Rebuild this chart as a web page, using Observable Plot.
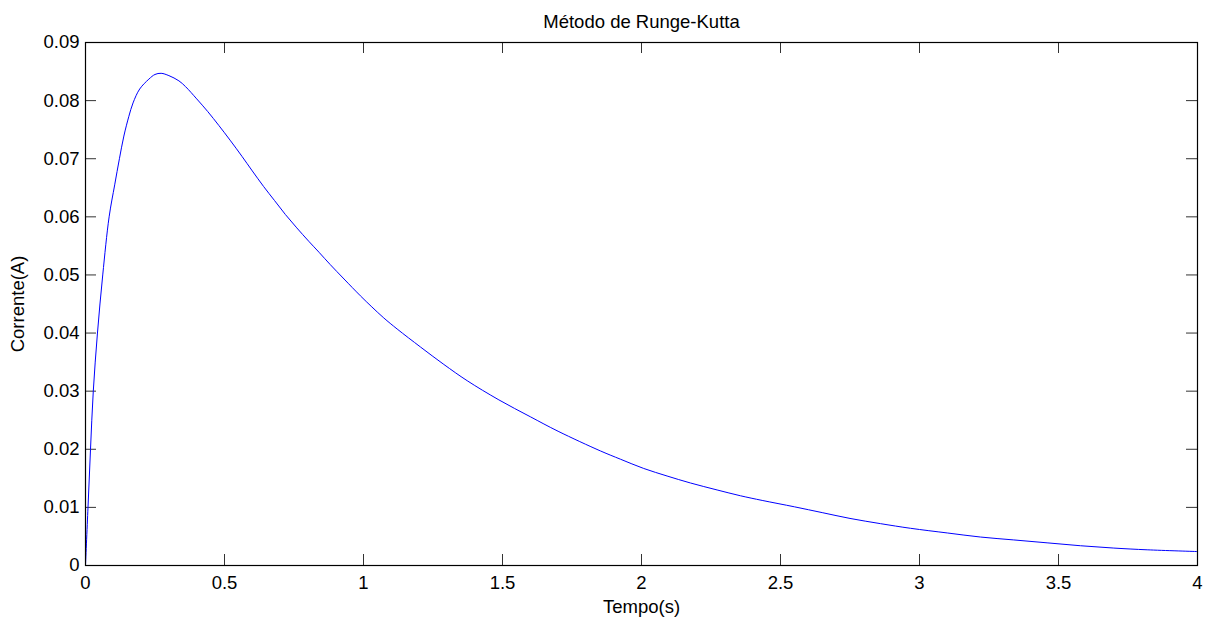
<!DOCTYPE html>
<html>
<head>
<meta charset="utf-8">
<script src="https://cdn.jsdelivr.net/npm/d3@7"></script>
<script src="https://cdn.jsdelivr.net/npm/@observablehq/plot@0.6"></script>
<style>
  html, body { margin: 0; padding: 0; background: #fff; overflow: hidden; }
</style>
</head>
<body>
<div id="chart"></div>
<script>
// Current through the circuit, integrated with the Runge-Kutta method
const timeS = [0, 0.009, 0.018, 0.028, 0.043, 0.062, 0.085, 0.105, 0.122, 0.138,
  0.156, 0.171, 0.195, 0.228, 0.25, 0.272, 0.30, 0.336, 0.36, 0.40,
  0.44, 0.48, 0.52, 0.563, 0.60, 0.641, 0.68, 0.719, 0.76, 0.803,
  0.84, 0.88, 0.93, 0.989, 1.03, 1.073, 1.121, 1.205, 1.289, 1.373,
  1.487, 1.6, 1.7, 1.853, 1.924, 2.008, 2.092, 2.176, 2.272, 2.356,
  2.434, 2.55, 2.65, 2.75, 2.86, 2.968, 3.10, 3.219, 3.339, 3.459,
  3.579, 3.699, 3.819, 4.0];
const currentA = [0, 0.010, 0.020, 0.030, 0.040, 0.050, 0.060, 0.0655, 0.0700, 0.0739,
  0.0773, 0.0796, 0.0820, 0.0837, 0.0845, 0.0847, 0.0843, 0.0834, 0.0824, 0.0803,
  0.0781, 0.0757, 0.0732, 0.0704, 0.0679, 0.0652, 0.0628, 0.0604, 0.0581, 0.0558,
  0.0539, 0.0518, 0.0493, 0.0464, 0.0445, 0.0426, 0.0407, 0.0376, 0.0346, 0.0318,
  0.0285, 0.0256, 0.0231, 0.0197, 0.0183, 0.0167, 0.0154, 0.0142, 0.0130, 0.0120,
  0.0112, 0.0101, 0.0091, 0.0081, 0.0072, 0.0064, 0.0056, 0.0049, 0.0044, 0.0039,
  0.0034, 0.0030, 0.0027, 0.0024];

const xTicks = [0, 0.5, 1, 1.5, 2, 2.5, 3, 3.5, 4];
const yTicks = [0, 0.01, 0.02, 0.03, 0.04, 0.05, 0.06, 0.07, 0.08, 0.09];
const xTickLabels = ["0", "0.5", "1", "1.5", "2", "2.5", "3", "3.5", "4"];
const yTickLabels = ["0", "0.01", "0.02", "0.03", "0.04", "0.05", "0.06", "0.07", "0.08", "0.09"];

const titleText = "Método de Runge-Kutta";
const xLabel = "Tempo(s)";
const yLabel = "Corrente(A)";

const data = timeS.map((t, i) => ({t, i: currentA[i]}));

const W = 1211, H = 621;
const mL = 85, mR = 14, mT = 42, mB = 56;
const innerW = W - mL - mR, innerH = H - mT - mB;
const TICK = 11; // inward tick length in px

const textOpts = {text: d => d, fontSize: 18.5, lineAnchor: "middle", textAnchor: "middle"};

const chart = Plot.plot({
  width: W,
  height: H,
  marginLeft: mL,
  marginRight: mR,
  marginTop: mT,
  marginBottom: mB,
  style: {fontFamily: "'Liberation Sans', Arial, sans-serif", fontSize: "18.5px", background: "#fff", color: "#000"},
  x: {domain: [0, 4]},
  y: {domain: [0, 0.09]},
  marks: [
    Plot.axisX(xTicks, {tickSize: 0, tickPadding: 10, tickFormat: d => xTickLabels[xTicks.indexOf(d)], label: null}),
    Plot.axisY(yTicks, {tickSize: 0, tickPadding: 6, tickFormat: d => yTickLabels[yTicks.indexOf(d)], label: null}),
    // inward ticks on all four sides of the box
    Plot.tickX(xTicks, {x: d => d, insetTop: innerH - TICK, stroke: "#333"}),
    Plot.tickX(xTicks, {x: d => d, insetBottom: innerH - TICK, stroke: "#333"}),
    Plot.tickY(yTicks, {y: d => d, insetRight: innerW - TICK, stroke: "#333"}),
    Plot.tickY(yTicks, {y: d => d, insetLeft: innerW - TICK, stroke: "#333"}),
    Plot.line(data, {x: "t", y: "i", stroke: "#0000ff", strokeWidth: 1, curve: "catmull-rom"}),
    Plot.frame({stroke: "#000", strokeWidth: 1.2}),
    Plot.text([titleText], {...textOpts, frameAnchor: "top", dy: -20}),
    Plot.text([xLabel], {...textOpts, frameAnchor: "bottom", dy: 42}),
    Plot.text([yLabel], {...textOpts, frameAnchor: "left", dx: -67, rotate: -90})
  ]
});

document.getElementById("chart").appendChild(chart);
</script>
</body>
</html>
